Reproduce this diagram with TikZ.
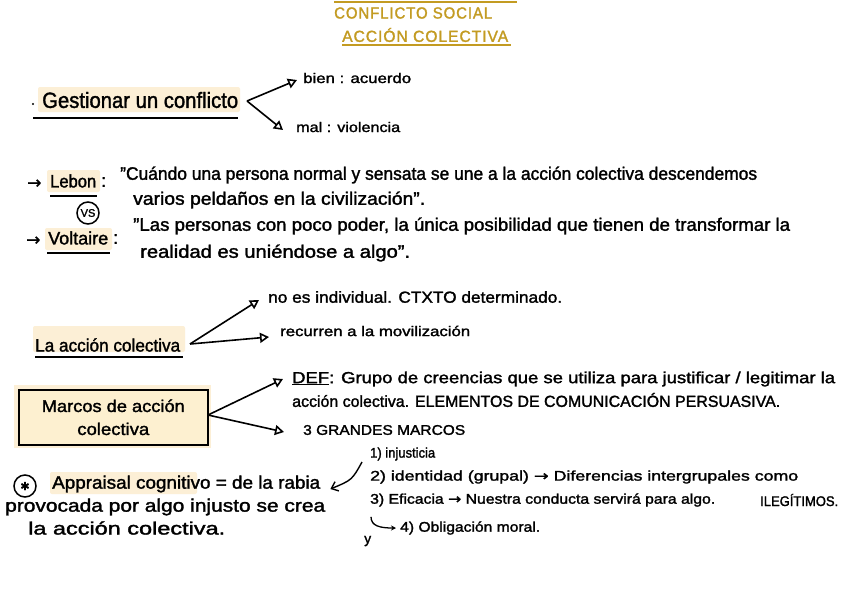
\documentclass[tikz,border=0pt]{standalone}
\usepackage{graphicx}
\usepackage{fontspec}
\setmainfont{Liberation Sans}[FakeBold=1.6]
\newfontfamily\symf{DejaVu Sans}[FakeBold=1.2]
\newfontfamily\titlef{Liberation Sans}[LetterSpace=6,FakeBold=1.6]
\usetikzlibrary{arrows.meta}
\definecolor{gold}{HTML}{C39B22}
\definecolor{hl}{HTML}{FCEFD6}
\definecolor{boxfill}{HTML}{FDF0D0}
\newcommand\fw[2]{\resizebox{#1pt}{\height}{#2}}
\newcommand\fs[1]{\fontsize{#1}{#1}\selectfont}
\begin{document}
\begin{tikzpicture}[x=1pt,y=-1pt,
  txt/.style={inner sep=0pt, anchor=west, font=\fs{16}},
  sm/.style={txt, font=\fs{14}},
  big/.style={txt, font=\fs{18}},
  arr/.style={-{Triangle[open,length=9pt,width=10pt]}, line width=1.6pt},
  uline/.style={line width=2.2pt},
  hlbox/.style={fill=hl, rounded corners=2pt},
  ring/.style={circle, draw, line width=1.5pt, inner sep=0pt, minimum size=22pt}]
\fill[white] (0,0) rectangle (848,600);
\useasboundingbox (0,0) rectangle (848,600);

% title
\draw[gold, line width=1.5pt] (334,2) -- (517,2);
\node[txt, text=gold, font=\titlef\fs{16}] (t1) at (334,13) {\fw{158}{CONFLICTO SOCIAL}};
\node[txt, text=gold, font=\titlef\fs{16}] (t2) at (342,35) {\fw{166}{ACCIÓN COLECTIVA}};
\draw[gold, line width=1.5pt] (342,45) -- (511,45);

% gestionar
\fill[hlbox] (38,87) rectangle (240,112);
\fill (33,104) circle (1.1pt);
\node[txt, font=\fs{22}] (gest) at (42,100) {\fw{196}{Gestionar un conflicto}};
\draw[uline] (33,118) -- (238,118);
\coordinate (gv) at (247,101);
\node[sm] (bien) at (303,78) {\fw{108}{bien : acuerdo}};
\node[sm] (mal) at (296,127) {\fw{104}{mal : violencia}};
\draw[arr] (gv) -- ([shift={(-6,2)}]bien.west);
\draw[arr] (gv) -- ([shift={(-13,3)}]mal.west);

% Lebon
\fill[hlbox] (47,170) rectangle (100,192);
\node[txt, font=\symf\fs{17}] (arL) at (27,184) {→};
\node[big] (lebon) at (50,181) {\fw{46}{Lebon}};
\draw[line width=1.8pt] (50,196) -- (97,196);
\node[big] (cL) at (101,182) {:};
\node[big] (q1) at (120,175) {\fw{637}{"Cuándo una persona normal y sensata se une a la acción colectiva descendemos}};
\node[big] (q2) at (133,200) {\fw{292}{varios peldaños en la civilización".}};
\node[ring, font=\fs{11}] (vs) at (88,213) {VS};

% Voltaire
\fill[hlbox] (45,228) rectangle (112,250);
\node[txt, font=\symf\fs{17}] (arV) at (26,241) {→};
\node[big] (volt) at (48,238) {\fw{60}{Voltaire}};
\draw[line width=1.8pt] (47,253) -- (110,253);
\node[big] (cV) at (113,239) {:};
\node[big] (q3) at (133,226) {\fw{657}{"Las personas con poco poder, la única posibilidad que tienen de transformar la}};
\node[big] (q4) at (140,253) {\fw{270}{realidad es uniéndose a algo".}};

% la accion colectiva
\fill[hlbox] (33,326) rectangle (185,352);
\node[big] (lac) at (35,345) {\fw{145}{La acción colectiva}};
\draw[uline] (35,357) -- (183,357);
\coordinate (av) at (190,344);
\node[txt] (noes) at (268,297) {\fw{294}{no es individual. CTXTO determinado.}};
\node[sm] (recu) at (280,331) {\fw{190}{recurren a la movilización}};
\draw[arr] (av) -- ([shift={(-9,3)}]noes.west);
\draw[arr] (av) -- ([shift={(-11,6)}]recu.west);

% marcos box
\fill[hl] (14,385) rectangle (211,448);
\node[draw, line width=1.6pt, fill=boxfill, minimum width=189pt, minimum height=55pt,
      anchor=north west, align=center, inner sep=0pt, font=\fs{17}]
      (marcos) at (18,389) {\fw{143}{Marcos de acción}\\[6pt]\fw{72}{colectiva}};
\coordinate (mv) at (208,415);
\node[txt] (def) at (292,379) {\fw{543}{\underline{DEF}: Grupo de creencias que se utiliza para justificar / legitimar la}};
\node[txt] (def2) at (292,400) {\fw{488}{acción colectiva. ELEMENTOS DE COMUNICACIÓN PERSUASIVA.}};
\node[sm] (tres) at (303,430) {\fw{162}{3 GRANDES MARCOS}};
\draw[arr] (mv) -- ([shift={(-9,0)}]def.west);
\draw[arr] (mv) -- ([shift={(-19,2)}]tres.west);

% appraisal
\node[ring, font=\symf\fs{11}] (ast) at (25,486) {✱};
\fill[hlbox] (50,472) rectangle (197,494);
\node[big] (appr) at (52,484) {\fw{268}{Appraisal cognitivo = de la rabia}};
\node[big] (prov) at (5,507) {\fw{320}{provocada por algo injusto se crea}};
\node[big] (lacc) at (28,528) {\fw{197}{la acción colectiva.}};

% list
\node[sm] (l1) at (370,454) {\fw{65}{1) injusticia}};
\node[sm] (l2) at (370,477) {\fw{428}{2) identidad (grupal) {\symf →} Diferencias intergrupales como}};
\node[sm] (l3) at (370,500) {\fw{345}{3) Eficacia {\symf →} Nuestra conducta servirá para algo.}};
\node[sm] (ileg) at (760,500) {\fw{78}{ILEGÍTIMOS.}};
\node[sm] (l4) at (400,528) {\fw{140}{4) Obligación moral.}};
\node[sm] (yy) at (364,541) {y};
\draw[line width=1.4pt, -{Straight Barb[length=6pt,width=10pt]}]
  ([shift={(-8,8)}]l1.west) .. controls (352,480) .. ([shift={(10,5)}]appr.east);
\draw[line width=1.3pt, -{Stealth[length=5pt,width=5pt]}]
  ([shift={(1,10)}]l3.south west) .. controls (371,526) and (380,528) .. ([xshift=-4pt]l4.west);
\end{tikzpicture}
\end{document}
